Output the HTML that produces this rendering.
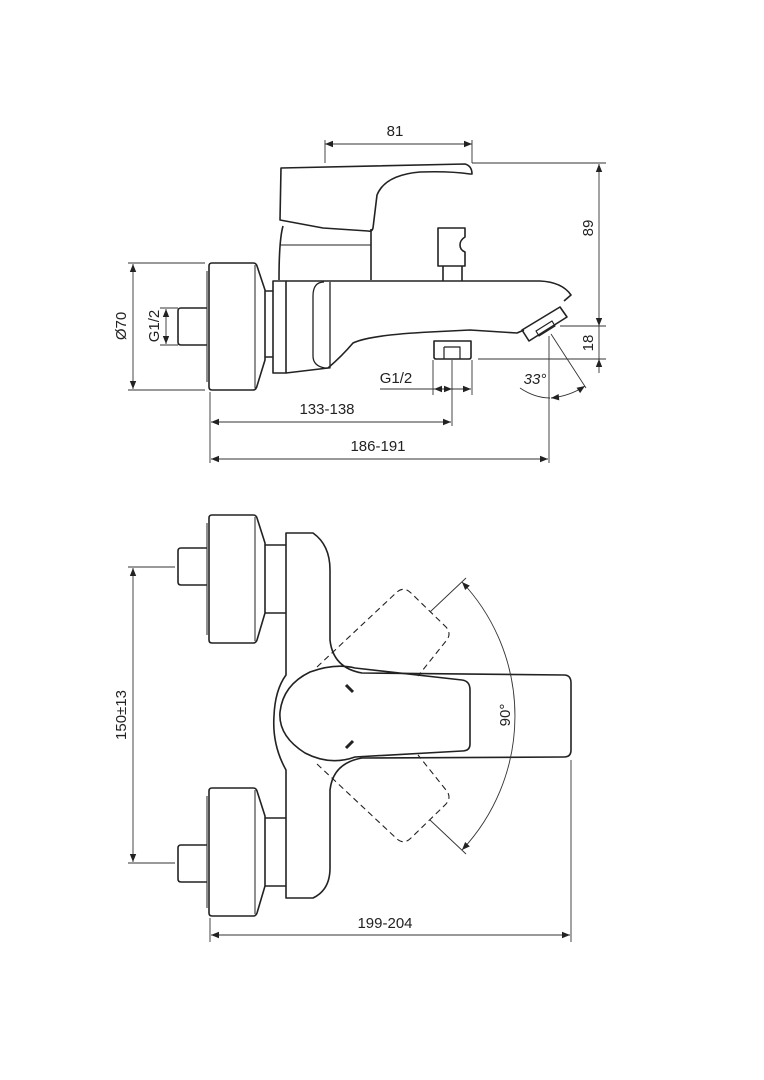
<!DOCTYPE html>
<html><head><meta charset="utf-8"><style>
html,body{margin:0;padding:0;background:#fff;}
svg{display:block;}
text{font-family:"Liberation Sans",sans-serif;font-size:15px;fill:#222;}
</style></head><body>
<svg width="764" height="1080" viewBox="0 0 764 1080" xmlns="http://www.w3.org/2000/svg">
<defs>
<marker id="a" viewBox="0 0 10 10" refX="10" refY="5" markerWidth="12" markerHeight="8" markerUnits="userSpaceOnUse" orient="auto-start-reverse">
<path d="M0,1 L10,5 L0,9 z" fill="#222"/></marker>
</defs>
<g fill="none" stroke="#222" stroke-width="1.6" stroke-linejoin="round">
<path d="M281,168 L465,164 Q472,166 472,174 L470,174 Q450,171 420,172 Q385,175 377,195 L373,228 Q372,232 368,231 L323,228 L280,220 Z"/>
<path d="M283,226 Q279,240 279,280 M371,229 L371,280"/>
<path d="M280,245 L371,245" stroke-width="1"/>
<path d="M438,228 L465,228 L465,237 Q460,240 460,245 Q460,250 465,252 L465,266 L438,266 Z"/>
<path d="M443,266 L443,281 M462,266 L462,281"/>
<path d="M212,263 L253,263 Q256,263 257,266 L265,290 L265,360 L257,386 Q256,390 253,390 L212,390 Q209,390 209,387 L209,266 Q209,263 212,263 Z"/>
<path d="M207,271 L207,382 M255,265 L255,388" stroke-width="1"/>
<path d="M207,308 L181,308 Q178,308 178,311 L178,342 Q178,345 181,345 L207,345"/>
<path d="M265,291 L273,291 M265,357 L273,357"/>
<path d="M273,281 L286,281 L286,373 L273,373 Z"/>
<path d="M286,281 L540,281 Q562,282 571,295 L564,301 M286,373 L328,368 Q342,356 353,343 Q370,335 430,332 L470,330 L517,333 L524,330"/>
<path d="M324,282 Q313,282 313,296 L313,356 Q313,366 325,368 L330,368 L330,282" stroke-width="1.3"/>
<path d="M522,330 L560,307 L567,317 L529,341 Z"/>
<path d="M536,331 L552,321 L555,326 L539,336 Z" stroke-width="1.2"/>
<path d="M434,341 L471,341 L471,357 Q471,359 469,359 L436,359 Q434,359 434,357 Z"/>
<path d="M444,347 L460,347 L460,359 M444,347 L444,359" stroke-width="1.2"/>

<path d="M212,515 L253,515 Q256,515 257,518 L265,543 L265,613 L257,640 Q256,643 253,643 L212,643 Q209,643 209,640 L209,518 Q209,515 212,515 Z"/>
<path d="M207,523 L207,635 M255,517 L255,641" stroke-width="1"/>
<path d="M207,548 L181,548 Q178,548 178,551 L178,582 Q178,585 181,585 L207,585"/>
<path d="M265,545 L286,545 M265,613 L286,613"/>
<path d="M212,788 L253,788 Q256,788 257,791 L265,816 L265,886 L257,913 Q256,916 253,916 L212,916 Q209,916 209,913 L209,791 Q209,788 212,788 Z"/>
<path d="M207,796 L207,908 M255,790 L255,914" stroke-width="1"/>
<path d="M207,845 L181,845 Q178,845 178,848 L178,879 Q178,882 181,882 L207,882"/>
<path d="M265,818 L286,818 M265,886 L286,886"/>
<path d="M286,533 L313,533 Q330,545 330,570 L330,640 Q333,668 362,673 L564,675 Q571,675 571,683 L571,750 Q571,757 564,757 L362,758 Q333,763 330,790 L330,868 Q330,890 313,898 L286,898 L286,770 Q272,745 274,716 Q275,690 286,675 Z"/>
<path d="M310,672 Q335,663 355,668 L462,680 Q470,681 470,690 L470,744 Q470,751 462,751 L355,757 Q330,766 305,753 Q278,736 280,712 Q283,685 310,672 Z"/>
<path d="M346,685 L353,692 M346,748 L353,741" stroke-width="3"/>
<path d="M317,667 L397,592 Q404,586 411,593 L446,627 Q452,634 446,641 L418,676" stroke-dasharray="6,4" stroke-width="1.1"/>
<path d="M317,764 L397,839 Q404,845 411,838 L446,804 Q452,797 446,790 L418,755" stroke-dasharray="6,4" stroke-width="1.1"/>
</g>

<g fill="none" stroke="#333" stroke-width="0.9">
<path d="M325,140 L325,163 M472,140 L472,163"/>
<path d="M325,144 L472,144" marker-start="url(#a)" marker-end="url(#a)"/>
<path d="M472,163 L606,163 M560,326 L606,326 M478,359 L606,359"/>
<path d="M599,164 L599,326" marker-start="url(#a)" marker-end="url(#a)"/>
<path d="M599,373 L599,359" marker-end="url(#a)"/>
<path d="M599,326 L599,359"/>
<path d="M128,263 L205,263 M128,390 L205,390"/>
<path d="M133,264 L133,389" marker-start="url(#a)" marker-end="url(#a)"/>
<path d="M160,308 L178,308 M160,345 L178,345"/>
<path d="M166,309 L166,344" marker-start="url(#a)" marker-end="url(#a)"/>
<path d="M433,360 L433,395 M452,360 L452,426 M472,360 L472,395"/>
<path d="M380,389 L452,389"/>
<path d="M434,389 L452,389" marker-start="url(#a)" marker-end="url(#a)"/>
<path d="M471,389 L452,389" marker-start="url(#a)"/>
<path d="M210,392 L210,463 M549,336 L549,463"/>
<path d="M211,422 L451,422" marker-start="url(#a)" marker-end="url(#a)"/>
<path d="M211,459 L548,459" marker-start="url(#a)" marker-end="url(#a)"/>
<path d="M551,334 L586,388"/>
<path d="M520,388 Q535,398 550,398"/>
<path d="M551,398 Q570,396 585,386" marker-start="url(#a)" marker-end="url(#a)"/>
<path d="M128,567 L175,567 M128,863 L175,863"/>
<path d="M133,568 L133,862" marker-start="url(#a)" marker-end="url(#a)"/>
<path d="M210,918 L210,942 M571,760 L571,942"/>
<path d="M211,935 L570,935" marker-start="url(#a)" marker-end="url(#a)"/>
<path d="M430,612 L466,578 M430,820 L466,854"/>
<path d="M462,582 A196,196 0 0 1 462,850" marker-start="url(#a)" marker-end="url(#a)"/>
</g>

<text x="395" y="136" text-anchor="middle">81</text>
<text x="396" y="383" text-anchor="middle">G1/2</text>
<text x="327" y="414" text-anchor="middle">133-138</text>
<text x="378" y="451" text-anchor="middle">186-191</text>
<text x="535" y="384" text-anchor="middle" font-style="italic">33°</text>
<text x="385" y="928" text-anchor="middle">199-204</text>
<text transform="translate(593,228) rotate(-90)" text-anchor="middle">89</text>
<text transform="translate(593,343) rotate(-90)" text-anchor="middle">18</text>
<text transform="translate(126,326) rotate(-90)" text-anchor="middle">Ø70</text>
<text transform="translate(159,326) rotate(-90)" text-anchor="middle">G1/2</text>
<text transform="translate(126,715) rotate(-90)" text-anchor="middle">150±13</text>
<text transform="translate(510,715) rotate(-90)" text-anchor="middle">90°</text>
</svg>
</body></html>
